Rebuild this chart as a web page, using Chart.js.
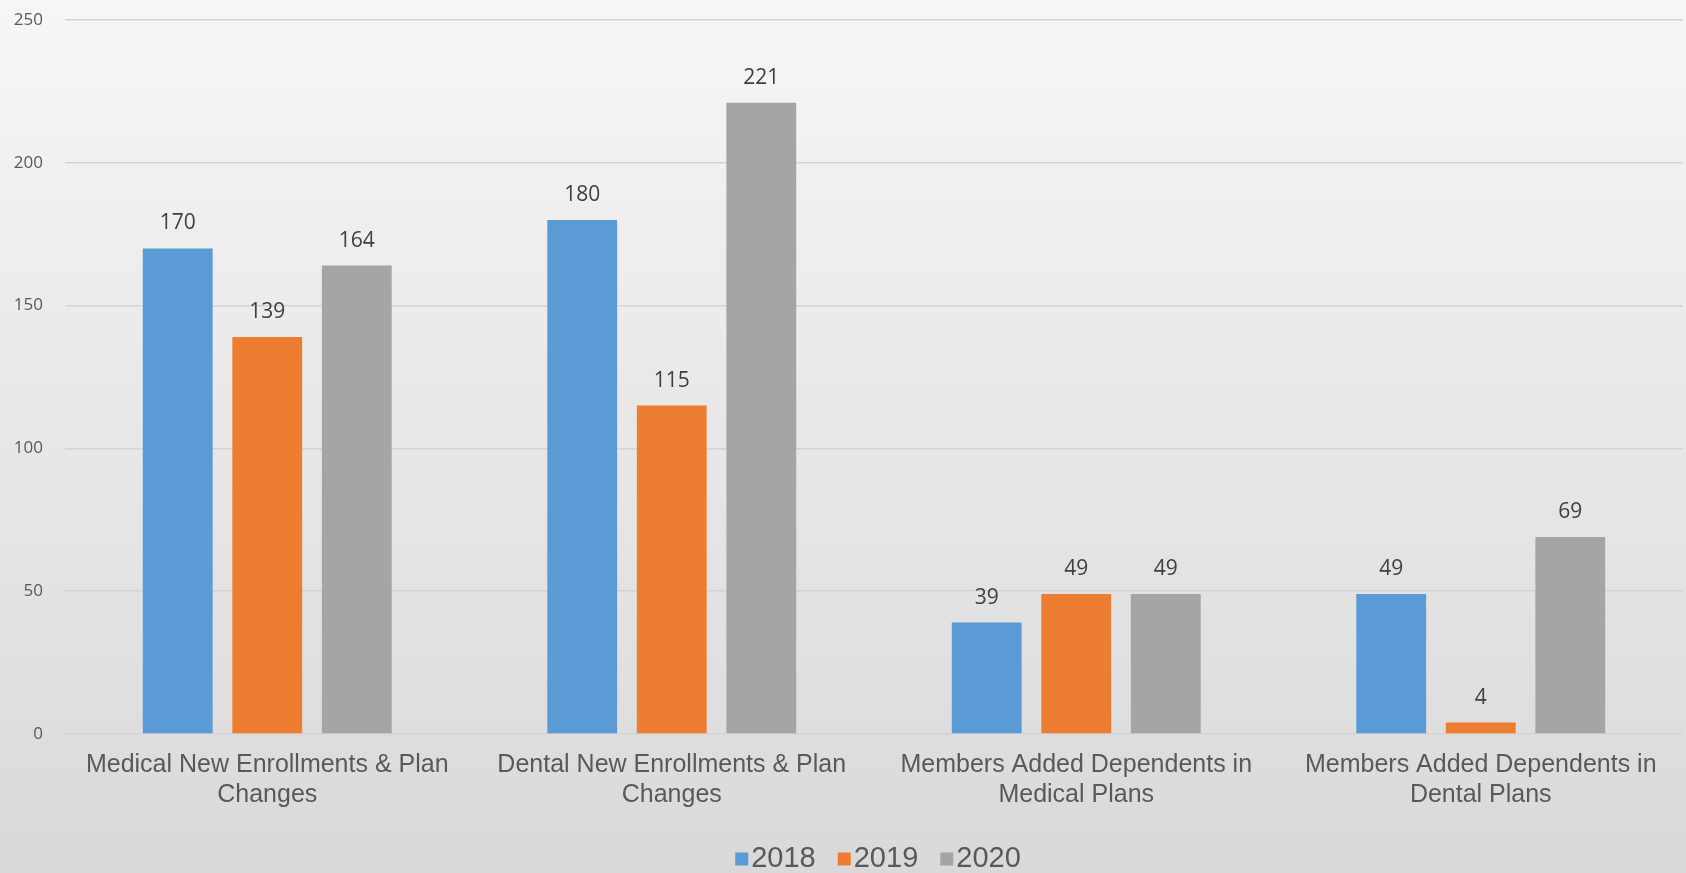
<!DOCTYPE html>
<html>
<head>
<meta charset="utf-8">
<script src="https://cdn.jsdelivr.net/npm/chart.js@4"></script>
<style>
  html, body { margin: 0; padding: 0; background: #e6e6e6; }
  #wrap { width: 1686px; height: 873px; position: relative; }
</style>
</head>
<body>
<div id="wrap"><canvas id="c" width="1686" height="873"></canvas></div>
<script>
const categories = [
  ["Medical New Enrollments & Plan", "Changes"],
  ["Dental New Enrollments & Plan", "Changes"],
  ["Members Added Dependents in", "Medical Plans"],
  ["Members Added Dependents in", "Dental Plans"]
];
const seriesNames = ["2018", "2019", "2020"];
const values2018 = [170, 180, 39, 49];
const values2019 = [139, 115, 49, 4];
const values2020 = [164, 221, 49, 69];
const seriesColors = ["#5b9bd5", "#ed7d31", "#a5a5a5"];
const yTicks = [0, 50, 100, 150, 200, 250];

const bgPlugin = {
  id: 'bg',
  beforeDraw(chart) {
    const { ctx, width, height } = chart;
    const g = ctx.createLinearGradient(0, 0, 0, height);
    g.addColorStop(0, '#f6f6f6');
    g.addColorStop(1, '#d9d9d9');
    ctx.save();
    ctx.fillStyle = g;
    ctx.fillRect(0, 0, width, height);
    ctx.restore();
  }
};

const valueLabels = {
  id: 'valueLabels',
  afterDatasetsDraw(chart) {
    const { ctx } = chart;
    ctx.save();
    ctx.font = '21px "Open Sans", "Noto Sans", sans-serif';
    ctx.fillStyle = '#404040';
    ctx.textAlign = 'center';
    ctx.textBaseline = 'middle';
    chart.data.datasets.forEach((ds, i) => {
      const meta = chart.getDatasetMeta(i);
      meta.data.forEach((bar, j) => {
        ctx.fillText(String(ds.data[j]), bar.x, bar.y - 25);
      });
    });
    ctx.restore();
  }
};

const customLegend = {
  id: 'customLegend',
  afterDraw(chart) {
    const { ctx, chartArea } = chart;
    ctx.save();
    ctx.font = '29px "Liberation Sans", Arial, sans-serif';
    ctx.textBaseline = 'middle';
    ctx.textAlign = 'left';
    const box = 13, gapBT = 3, gapItems = 22;
    const items = chart.data.datasets.map(ds => ({
      text: ds.label, color: ds.backgroundColor, w: ctx.measureText(ds.label).width
    }));
    const total = items.reduce((s, it) => s + box + gapBT + it.w, 0) + gapItems * (items.length - 1);
    let x = (chartArea.left + chartArea.right) / 2 + 4 - total / 2;
    const yc = 859;
    items.forEach(it => {
      ctx.fillStyle = it.color;
      ctx.fillRect(x, yc - box / 2, box, box);
      ctx.fillStyle = '#595959';
      ctx.fillText(it.text, x + box + gapBT, yc);
      x += box + gapBT + it.w + gapItems;
    });
    ctx.restore();
  }
};

new Chart(document.getElementById('c'), {
  type: 'bar',
  data: {
    labels: categories,
    datasets: [
      { label: seriesNames[0], data: values2018, backgroundColor: seriesColors[0] },
      { label: seriesNames[1], data: values2019, backgroundColor: seriesColors[1] },
      { label: seriesNames[2], data: values2020, backgroundColor: seriesColors[2] }
    ]
  },
  options: {
    responsive: false,
    animation: false,
    devicePixelRatio: 1,
    layout: { padding: { top: 20, right: 3, bottom: 0, left: 0 } },
    datasets: { bar: { categoryPercentage: 0.664, barPercentage: 0.78 } },
    plugins: {
      legend: { display: false },
      tooltip: { enabled: false }
    },
    scales: {
      x: {
        grid: { display: false, drawTicks: false },
        border: { display: false },
        ticks: {
          autoSkip: false, maxRotation: 0, minRotation: 0, padding: 16,
          color: '#595959',
          font: { family: '"Liberation Sans", Arial, sans-serif', size: 25, lineHeight: 1.2 }
        },
        afterFit(scale) { scale.height = 139; }
      },
      y: {
        min: 0, max: 250,
        afterBuildTicks(scale) { scale.ticks = yTicks.map(v => ({ value: v })); },
        grid: { color: '#d3d3d3', lineWidth: 1.5, drawTicks: true, tickLength: 22, tickColor: 'rgba(0,0,0,0)' },
        border: { display: false },
        ticks: {
          padding: 0, color: '#595959',
          font: { family: '"Open Sans", "Noto Sans", sans-serif', size: 17 }
        },
        afterFit(scale) { scale.width = 65; }
      }
    }
  },
  plugins: [bgPlugin, valueLabels, customLegend]
});
</script>
</body>
</html>
